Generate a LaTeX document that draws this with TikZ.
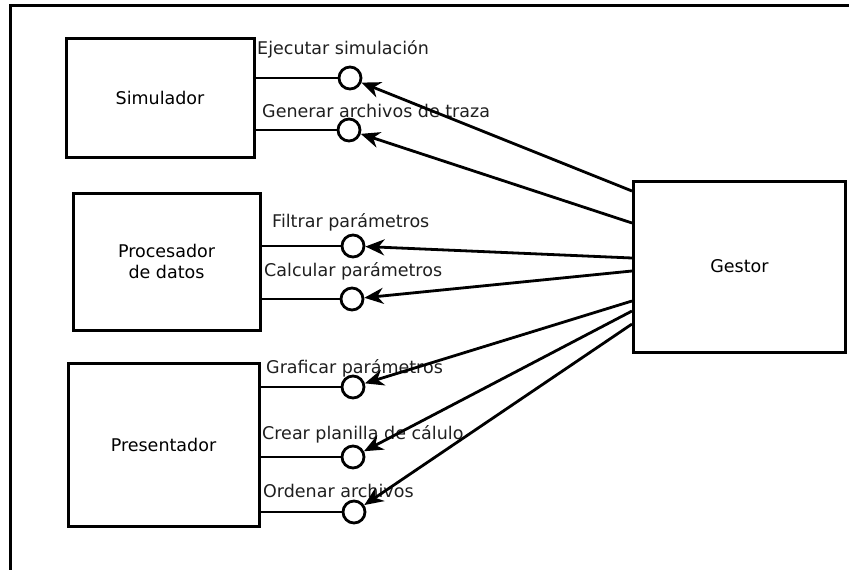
\documentclass[tikz,border=0pt]{standalone}
\usepackage{fontspec}
\setmainfont{DejaVu Sans}
\usetikzlibrary{arrows.meta}
\begin{document}
\begin{tikzpicture}[x=1pt,y=-1pt,
  box/.style={draw,line width=3pt,fill=white,inner sep=0pt,align=center,font=\fontsize{17.5}{21}\selectfont},
  port/.style={draw,circle,line width=2.8pt,fill=white,minimum size=22pt,inner sep=0pt},
  lab/.style={anchor=base west,inner sep=0pt,font=\fontsize{17.5}{21}\selectfont,text=black!88},
  wire/.style={line width=2.8pt},
  arr/.style={line width=2.8pt,-{Stealth[length=19pt,width=16pt,inset=6pt]}}]
\useasboundingbox (0,0) rectangle (849,570);
% outer frame (top and left only)
\coordinate (fa) at (10,572);
\coordinate (fb) at (10,5);
\coordinate (fc) at (852,5);
\draw[line width=3pt] (fa) -- (fb) -- (fc);
% boxes
\node[box,minimum width=188pt,minimum height=119pt] (sim) at (160,97.5) {Simulador};
\node[box,minimum width=187pt,minimum height=137pt] (proc) at (166.5,261.5) {Procesador\\de datos};
\node[box,minimum width=191pt,minimum height=163pt] (pres) at (163.5,444.5) {Presentador};
\node[box,minimum width=212pt,minimum height=171pt] (gest) at (739.5,266.5) {Gestor};
% ports
\node[port] (c1) at (350,78) {};
\node[port] (c2) at (349,130) {};
\node[port] (c3) at (353,246) {};
\node[port] (c4) at (352,299) {};
\node[port] (c5) at (353,387) {};
\node[port] (c6) at (353,457) {};
\node[port] (c7) at (354,512) {};
% wires from boxes to ports
\draw[wire] (sim.east |- c1) -- (c1);
\draw[wire] (sim.east |- c2) -- (c2);
\draw[wire] (proc.east |- c3) -- (c3);
\draw[wire] (proc.east |- c4) -- (c4);
\draw[wire] (pres.east |- c5) -- (c5);
\draw[wire] (pres.east |- c6) -- (c6);
\draw[wire] (pres.east |- c7) -- (c7);
% labels
\node[lab] (l1) at (257,54) {Ejecutar simulación};
\node[lab] (l2) at (262,117) {Generar archivos de traza};
\node[lab] (l3) at (272,227) {Filtrar parámetros};
\node[lab] (l4) at (264,276) {Calcular parámetros};
\node[lab] (l5) at (266,373) {Graficar parámetros};
\node[lab] (l6) at (262,439) {Crear planilla de cálulo};
\node[lab] (l7) at (263,497) {Ordenar archivos};
% arrow start points on the Gestor
\coordinate (g1) at (gest.west |- 0,191);
\coordinate (g2) at (gest.west |- 0,223);
\coordinate (g3) at (gest.west |- 0,258);
\coordinate (g4) at (gest.west |- 0,271);
\coordinate (g5) at (gest.west |- 0,301);
\coordinate (g6) at (gest.west |- 0,311);
\coordinate (g7) at (gest.west |- 0,324);
\draw[arr] (g1) -- (c1);
\draw[arr] (g2) -- (c2);
\draw[arr] (g3) -- (c3);
\draw[arr] (g4) -- (c4);
\draw[arr] (g5) -- (c5);
\draw[arr] (g6) -- (c6);
\draw[arr] (g7) -- (c7);
\end{tikzpicture}
\end{document}
